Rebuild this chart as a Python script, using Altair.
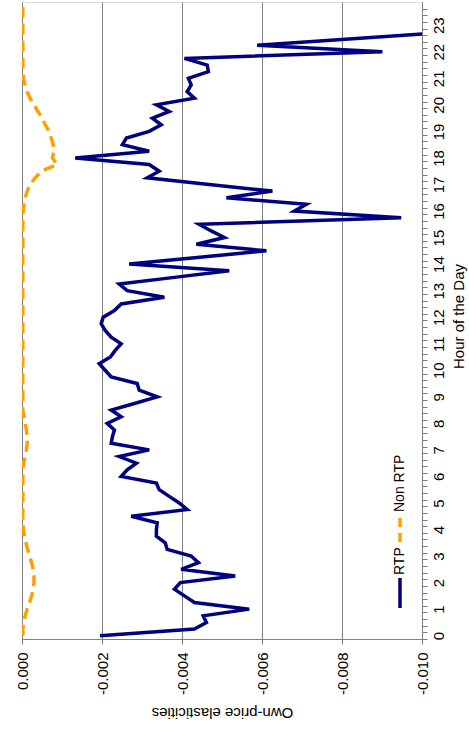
import altair as alt
import pandas as pd

# 15-minute intervals of the day (0:00 ... 23:45), expressed in hours
slots = [k * 0.25 for k in range(96)]

# Own-price elasticity, customers on real-time pricing
rtp = [
    -0.00195, -0.00431, -0.00461, -0.00453, -0.00568, -0.00431, -0.00406, -0.00381,
    -0.00396, -0.00533, -0.00398, -0.00441, -0.00423, -0.00363, -0.00358, -0.00336,
    -0.00336, -0.00338, -0.00273, -0.00413, -0.00393, -0.00368, -0.00343, -0.00336,
    -0.00248, -0.00263, -0.00286, -0.00243, -0.00318, -0.00223, -0.00226, -0.00231,
    -0.00213, -0.00248, -0.00223, -0.00281, -0.00338, -0.00293, -0.00288, -0.00223,
    -0.00208, -0.00193, -0.00221, -0.00233, -0.00248, -0.00223, -0.00208, -0.00198,
    -0.00203, -0.00231, -0.00248, -0.00356, -0.00263, -0.00243, -0.00381, -0.00518,
    -0.00268, -0.00438, -0.00611, -0.00436, -0.00506, -0.00473, -0.00443, -0.00948,
    -0.00681, -0.00711, -0.00511, -0.00626, -0.00468, -0.00313, -0.00343, -0.00318,
    -0.00133, -0.00318, -0.00251, -0.00261, -0.00318, -0.00348, -0.00326, -0.00368,
    -0.00336, -0.00431, -0.00413, -0.00423, -0.00416, -0.00466, -0.00463, -0.00406,
    -0.00901, -0.00588, -0.00836, -0.01080,
]

# Own-price elasticity, customers not on real-time pricing
non_rtp = [
    -0.00002, -0.00002, -0.00004, -0.00008, -0.00013, -0.00019, -0.00024, -0.00028,
    -0.00030, -0.00030, -0.00028, -0.00024, -0.00019, -0.00014, -0.00010, -0.00006,
    -0.00004, -0.00002, -0.00002, -0.00002, -0.00002, -0.00002, -0.00002, -0.00002,
    -0.00002, -0.00002, -0.00004, -0.00008, -0.00011, -0.00013, -0.00013, -0.00011,
    -0.00008, -0.00005, -0.00002, -0.00002, -0.00002, -0.00002, -0.00002, -0.00002,
    -0.00002, -0.00002, -0.00002, -0.00002, -0.00002, -0.00002, -0.00002, -0.00002,
    -0.00002, -0.00002, -0.00002, -0.00002, -0.00002, -0.00002, -0.00002, -0.00002,
    -0.00002, -0.00002, -0.00002, -0.00002, -0.00002, -0.00002, -0.00002, -0.00002,
    -0.00003, -0.00005, -0.00008, -0.00013, -0.00020, -0.00033, -0.00048, -0.00088,
    -0.00076, -0.00080, -0.00078, -0.00073, -0.00068, -0.00058, -0.00050, -0.00040,
    -0.00030, -0.00020, -0.00013, -0.00008, -0.00004, -0.00002, -0.00002, -0.00002,
    -0.00002, -0.00002, -0.00002, -0.00002, -0.00002, -0.00002, -0.00002, -0.00002,
]

elasticity_ticks = [0.0, -0.002, -0.004, -0.006, -0.008, -0.010]

FONT = "Liberation Sans"
NAVY = "#000080"
ORANGE = "#FFA000"
GREY = "#808080"

rtp_df = pd.DataFrame({"hour": slots[: len(rtp)], "value": rtp})
non_df = pd.DataFrame({"hour": slots, "value": non_rtp})

x_enc = alt.X(
    "value:Q",
    scale=alt.Scale(domain=[-0.010, 0.0], reverse=True, nice=False, zero=False),
    axis=alt.Axis(
        values=elasticity_ticks,
        labelExpr="replace(format(datum.value, '.3f'), '\u2212', '-')",
        labelAngle=270,
        labelAlign="right",
        labelBaseline="middle",
        labelPadding=8,
        labelFontSize=15,
        labelFont=FONT,
        labelColor="black",
        tickSize=5,
        tickColor=GREY,
        domainColor=GREY,
        grid=True,
        gridColor=GREY,
        gridWidth=1,
        title="Own-price elasticities",
        titleAngle=180,
        titleX=200,
        titleY=73,
        titleAlign="center",
        titleBaseline="middle",
        titleFont=FONT,
        titleFontSize=15,
        titleFontWeight="normal",
        titleColor="black",
    ),
)

y_enc = alt.Y(
    "hour:Q",
    scale=alt.Scale(domain=[-0.125, 23.875], nice=False, zero=False),
    axis=alt.Axis(
        orient="right",
        values=slots,
        tickOffset=3.3,
        labelOffset=-3.3,
        labelExpr="datum.value % 1 == 0 ? format(datum.value, 'd') : ''",
        labelOverlap=False,
        labelAngle=270,
        labelAlign="center",
        labelBaseline="top",
        labelPadding=4,
        labelFontSize=15,
        labelFont=FONT,
        labelColor="black",
        tickSize=5,
        tickColor=GREY,
        domainColor=GREY,
        grid=False,
        title="Hour of the Day",
        titleAngle=270,
        titleX=36,
        titleY=314,
        titleAlign="center",
        titleBaseline="middle",
        titleFont=FONT,
        titleFontSize=15,
        titleFontWeight="normal",
        titleColor="black",
    ),
)

non_line = (
    alt.Chart(non_df)
    .mark_line(color=ORANGE, strokeWidth=3.5, strokeDash=[11, 6], clip=True)
    .encode(x=x_enc, y=y_enc, order=alt.Order("hour:Q"))
)

rtp_line = (
    alt.Chart(rtp_df)
    .mark_line(color=NAVY, strokeWidth=3.5, clip=True)
    .encode(x=x_enc, y=y_enc, order=alt.Order("hour:Q"))
)

# Legend, drawn sideways along the hour axis
anchor = pd.DataFrame({"a": [0]})
leg_rtp = alt.Chart(anchor).mark_rule(color=NAVY, strokeWidth=3.5).encode(
    x=alt.value(378), y=alt.value(606), y2=alt.value(576)
)
leg_rtp_txt = alt.Chart(anchor).mark_text(
    angle=270, align="left", baseline="middle", font=FONT, fontSize=14, color="black"
).encode(x=alt.value(378), y=alt.value(573), text=alt.value("RTP"))
leg_non = alt.Chart(anchor).mark_rule(color=ORANGE, strokeWidth=3.5, strokeDash=[9, 6]).encode(
    x=alt.value(378), y=alt.value(540), y2=alt.value(515)
)
leg_non_txt = alt.Chart(anchor).mark_text(
    angle=270, align="left", baseline="middle", font=FONT, fontSize=14, color="black"
).encode(x=alt.value(378), y=alt.value(510), text=alt.value("Non RTP"))

chart = (
    alt.layer(non_line, rtp_line, leg_rtp, leg_rtp_txt, leg_non, leg_non_txt)
    .properties(
        width=400,
        height=637,
        autosize="none",
        padding={"left": 22, "top": 2, "right": 47, "bottom": 90},
    )
    .configure_view(stroke=GREY, strokeWidth=1)
    .configure(background="white")
)

chart.save("out.html", embed_options={"renderer": "svg", "actions": False})
